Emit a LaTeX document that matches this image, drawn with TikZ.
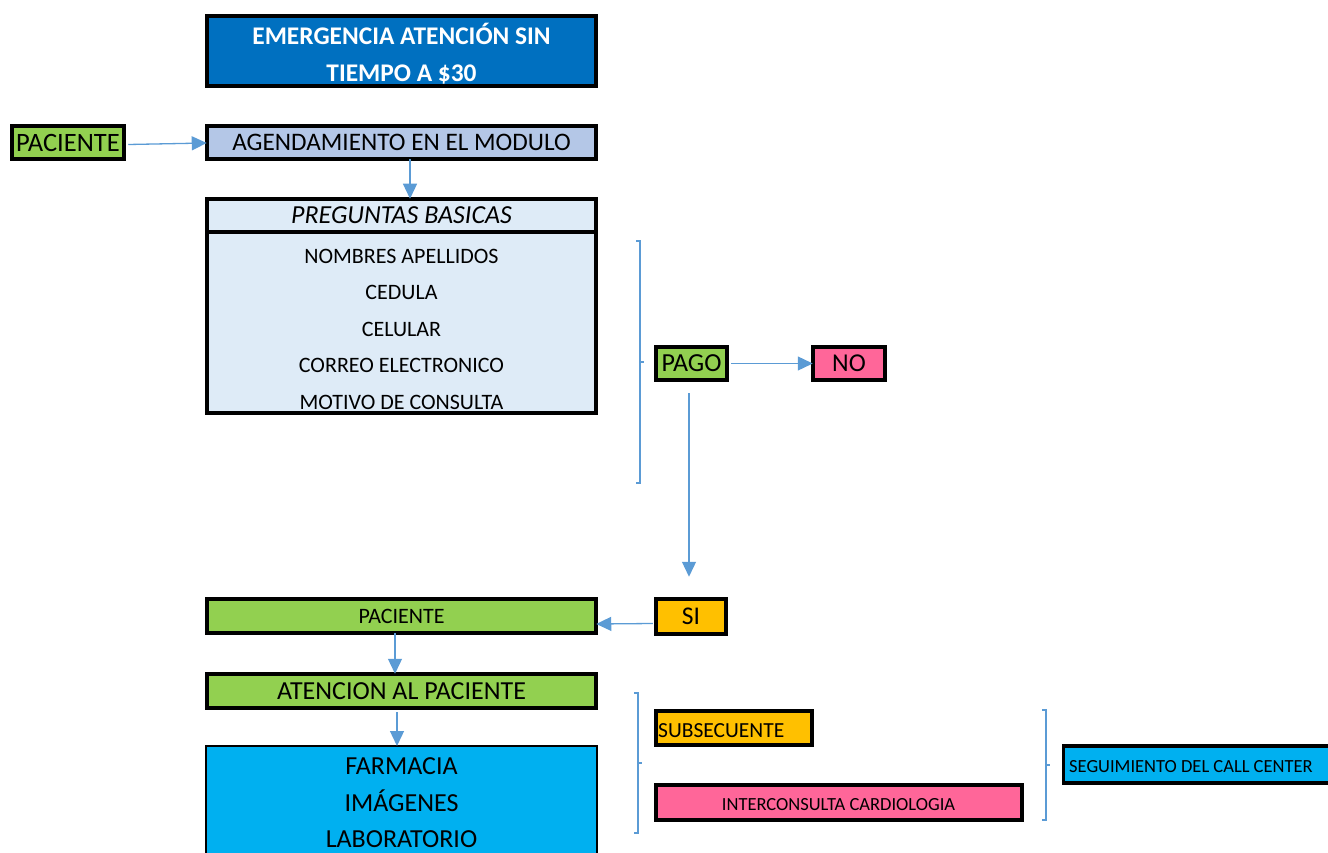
\documentclass[tikz,border=0pt]{standalone}
\usepackage{fontspec}
\setmainfont{Carlito}
\usetikzlibrary{arrows.meta}
\definecolor{titleblue}{HTML}{0070C0}
\definecolor{pgreen}{HTML}{92D050}
\definecolor{agblue}{HTML}{B4C7E7}
\definecolor{pale}{HTML}{DEEBF7}
\definecolor{ppink}{HTML}{FF6699}
\definecolor{porange}{HTML}{FFC000}
\definecolor{pcyan}{HTML}{00B0F0}
\definecolor{lineblue}{HTML}{5B9BD5}
\newcommand{\fsz}[1]{\fontsize{#1}{36.5}\selectfont}
\begin{document}
\begin{tikzpicture}[x=1pt,y=-1pt,
  box/.style={draw=black, line width=3.7pt, inner sep=0pt, outer sep=0pt, align=center},
  txt/.style={inner sep=0pt, align=center},
  arr/.style={draw=lineblue, line width=1.3pt, -{Triangle[length=15pt,width=14pt]}},
  brk/.style={draw=lineblue, line width=1.1pt}]
\useasboundingbox (0,0) rectangle (1328,853);
\clip (0,0) rectangle (1328,853);
% boxes
\node[box, fill=titleblue, minimum width=389.5pt, minimum height=70.5pt] (title) at (401.5,51) {};
\node[txt, text=white, font=\fsz{25.4}\bfseries] (titletext) at (401.5,53.5)
  {EMERGENCIA ATENCIÓN SIN\\TIEMPO A \$30};
\node[box, fill=pgreen, font=\fsz{26.5}, minimum width=112.5pt, minimum height=33.5pt] (pac1) at (68,142.5) {PACIENTE};
\node[box, fill=agblue, font=\fsz{25.2}, minimum width=389.5pt, minimum height=33.5pt] (agend) at (401.5,142.5) {AGENDAMIENTO EN EL MODULO};
\node[box, fill=pale, font=\fsz{26}\itshape, minimum width=389.5pt, minimum height=33.5pt] (preg) at (401.5,215.5) {PREGUNTAS BASICAS};
\node[box, fill=pale, minimum width=389.5pt, minimum height=180.5pt, anchor=north] (datos) at (preg.south) {};
\node[txt, font=\fsz{22}] (datostext) at (401.5,329)
  {NOMBRES APELLIDOS\\CEDULA\\CELULAR\\CORREO ELECTRONICO\\MOTIVO DE CONSULTA};
\node[box, fill=pgreen, font=\fsz{26}, minimum width=71.5pt, minimum height=33.5pt] (pago) at (691.5,363.5) {PAGO};
\node[box, fill=ppink, font=\fsz{25.7}, minimum width=72.5pt, minimum height=33.5pt] (no) at (849,363.5) {NO};
\node[box, fill=porange, font=\fsz{25.5}, minimum width=70.5pt, minimum height=35.5pt] (si) at (691,616.5) {SI};
\node[box, fill=pgreen, font=\fsz{22}, minimum width=389.5pt, minimum height=34.5pt] (pac2) at (401.5,616) {PACIENTE};
\node[box, fill=pgreen, font=\fsz{26}, minimum width=389.5pt, minimum height=34.5pt] (aten) at (401.5,691) {ATENCION AL PACIENTE};
\node[box, line width=2pt, fill=pcyan, font=\fsz{26}, minimum width=391pt, minimum height=114pt] (farm) at (401.5,803)
  {FARMACIA\\IMÁGENES\\LABORATORIO};
\node[box, fill=porange, minimum width=156.5pt, minimum height=34.5pt] (subs) at (734,728) {};
\node[txt, font=\fsz{21.5}, anchor=west] (substext) at (658,730.5) {SUBSECUENTE};
\node[box, fill=ppink, minimum width=366.5pt, minimum height=35.5pt] (inter) at (839,802.5) {};
\node[txt, font=\fsz{18.5}] (intertext) at (838.5,805) {INTERCONSULTA CARDIOLOGIA};
\node[box, fill=pcyan, minimum width=280pt, minimum height=37.5pt] (seg) at (1203.5,764.5) {};
\node[txt, font=\fsz{18.5}, anchor=west] (segtext) at (1069,766.5) {SEGUIMIENTO DEL CALL CENTER};
% connectors
\draw[arr] ([shift={(4pt,-2pt)}]pac1.east) -- ([yshift=-0.5pt]agend.west);
\draw[arr] ([xshift=8.5pt]agend.south) -- ([xshift=8.5pt]preg.north);
\draw[arr] ([xshift=4pt]pago.east) -- (no.west);
\draw[arr, shorten <=13pt, shorten >=22pt] ([xshift=-2.5pt]pago.south) -- ([xshift=-2pt]si.north);
\draw[arr] ([shift={(-3pt,-7pt)}]si.west) -- ([yshift=-8pt]pac2.east);
\draw[arr] ([xshift=-6.5pt]pac2.south) -- ([xshift=-6.5pt]aten.north);
\draw[arr, shorten <=4pt] ([xshift=-4.5pt]aten.south) -- ([xshift=-4.5pt]farm.north);
% brackets
\draw[brk] (636,241) -- (640,241) -- (640,483) -- (636,483) (640,362) -- (644,362);
\draw[brk] (634,693) -- (638,693) -- (638,833) -- (634,833) (638,763) -- (642,763);
\draw[brk] (1042,710) -- (1046,710) -- (1046,820) -- (1042,820) (1046,765) -- (1050,765);
\end{tikzpicture}
\end{document}
